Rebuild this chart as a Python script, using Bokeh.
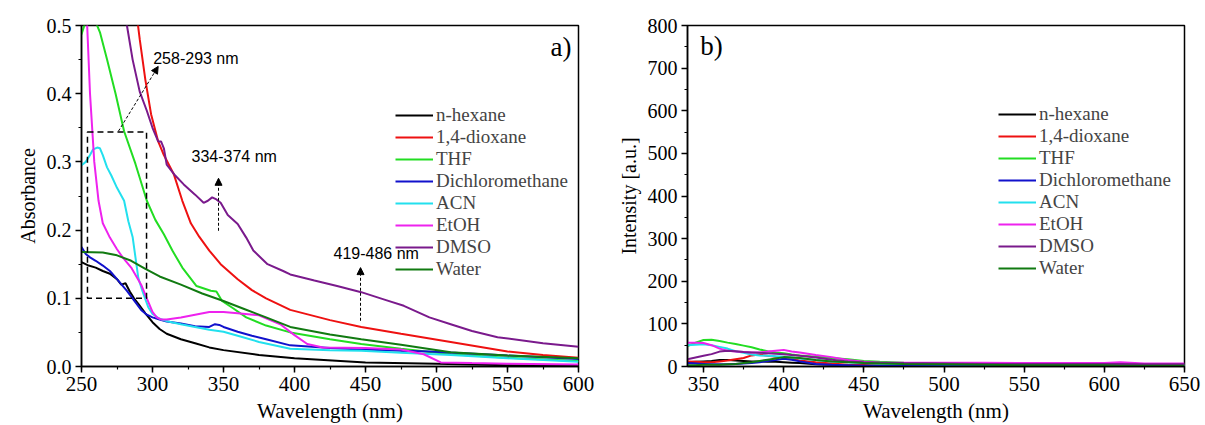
from bokeh.plotting import figure
from bokeh.layouts import row
from bokeh.models import (Legend, LegendItem, Range1d, SingleIntervalTicker, NumeralTickFormatter,
                          Label, Arrow, NormalHead, BoxAnnotation)
from bokeh.embed import file_html
from bokeh.resources import INLINE

# ---------------- data: panel a) absorbance ----------------
names = ["n-hexane", "1,4-dioxane", "THF", "Dichloromethane", "ACN", "EtOH", "DMSO", "Water"]
colors = ["#000000", "#ee1111", "#22dd22", "#1111cc", "#22e0ee", "#ee22ee", "#7a1a8c", "#117a11"]

hexane_x = [250, 255, 260, 265, 270, 275, 278, 281, 284, 287, 290, 295, 300, 305, 310, 320, 330, 340, 350, 375, 400, 450, 500, 550, 600]
hexane_y = [0.153, 0.148, 0.145, 0.140, 0.136, 0.128, 0.120, 0.122, 0.110, 0.100, 0.092, 0.078, 0.065, 0.055, 0.048, 0.040, 0.034, 0.028, 0.024, 0.017, 0.012, 0.006, 0.004, 0.002, 0.001]

dioxane_x = [285, 288, 291, 295, 299, 304, 308, 315, 321, 327, 333, 340, 348, 360, 370, 380, 390, 397, 425, 447, 475, 510, 550, 575, 600]
dioxane_y = [0.60, 0.53, 0.48, 0.42, 0.37, 0.33, 0.31, 0.282, 0.243, 0.21, 0.19, 0.17, 0.15, 0.128, 0.112, 0.100, 0.090, 0.083, 0.068, 0.058, 0.048, 0.036, 0.022, 0.017, 0.013]

thf_x = [250, 252, 256, 260, 263, 268, 274, 280, 288, 296, 302, 308, 314, 321, 331, 341, 345, 349, 357, 366, 380, 397, 425, 447, 475, 510, 550, 600]
thf_y = [0.487, 0.50, 0.51, 0.505, 0.49, 0.45, 0.40, 0.345, 0.297, 0.243, 0.215, 0.194, 0.17, 0.145, 0.118, 0.111, 0.110, 0.096, 0.085, 0.072, 0.060, 0.050, 0.040, 0.033, 0.026, 0.018, 0.013, 0.008]

dcm_x = [250, 253, 256, 260, 265, 270, 275, 282, 287, 292, 296, 300, 305, 310, 320, 330, 340, 344, 347, 350, 360, 370, 380, 397, 425, 447, 475, 495, 550, 600]
dcm_y = [0.175, 0.165, 0.160, 0.155, 0.148, 0.140, 0.128, 0.111, 0.097, 0.083, 0.076, 0.072, 0.069, 0.066, 0.063, 0.059, 0.058, 0.062, 0.061, 0.058, 0.051, 0.045, 0.040, 0.031, 0.027, 0.025, 0.023, 0.022, 0.016, 0.011]

acn_x = [250, 253, 256, 258, 261, 263, 265, 268, 271, 275, 280, 283, 286, 288, 290, 293, 297, 300, 305, 311, 320, 330, 340, 350, 360, 375, 397, 425, 447, 475, 510, 550, 600]
acn_y = [0.295, 0.300, 0.310, 0.318, 0.321, 0.320, 0.310, 0.292, 0.280, 0.262, 0.243, 0.213, 0.190, 0.160, 0.130, 0.110, 0.087, 0.077, 0.070, 0.066, 0.062, 0.058, 0.054, 0.051, 0.045, 0.036, 0.026, 0.024, 0.023, 0.020, 0.017, 0.012, 0.007]

etoh_x = [250, 253, 254, 256, 259, 262, 265, 270, 275, 279, 285, 292, 296, 300, 303, 306, 310, 320, 330, 340, 350, 360, 375, 390, 400, 409, 420, 450, 475, 491, 503, 525, 550, 600]
etoh_y = [0.60, 0.52, 0.50, 0.40, 0.30, 0.243, 0.210, 0.189, 0.172, 0.160, 0.145, 0.120, 0.100, 0.080, 0.072, 0.069, 0.069, 0.072, 0.076, 0.080, 0.080, 0.078, 0.075, 0.062, 0.046, 0.033, 0.028, 0.027, 0.025, 0.018, 0.006, 0.005, 0.004, 0.003]

dmso_x = [275, 280, 282, 286, 291, 296, 300, 304, 306, 308, 310, 316, 322, 330, 336, 339, 342, 345, 348, 353, 360, 366, 371, 381, 392, 397, 414, 430, 447, 465, 477, 495, 510, 525, 543, 575, 600]
dmso_y = [0.60, 0.52, 0.50, 0.45, 0.403, 0.375, 0.35, 0.33, 0.33, 0.32, 0.296, 0.28, 0.267, 0.252, 0.240, 0.243, 0.248, 0.245, 0.240, 0.222, 0.209, 0.189, 0.170, 0.150, 0.140, 0.135, 0.126, 0.118, 0.109, 0.097, 0.089, 0.072, 0.062, 0.052, 0.043, 0.034, 0.029]

water_x = [250, 265, 275, 285, 295, 305, 320, 335, 350, 365, 380, 397, 425, 447, 475, 510, 550, 600]
water_y = [0.168, 0.167, 0.163, 0.155, 0.143, 0.132, 0.120, 0.107, 0.096, 0.084, 0.072, 0.058, 0.047, 0.040, 0.032, 0.021, 0.016, 0.012]

# ---------------- data: panel b) emission ----------------
pl_wl = [340, 345, 350, 355, 360, 365, 370, 375, 380, 385, 390, 395, 400, 405, 410, 420, 430, 440, 450, 460, 475, 500, 525, 550, 575, 600, 610, 625, 650]
hexane_pl = [10, 11, 12, 13, 15, 15, 14, 13, 12, 12, 11, 11, 10, 9, 8, 5, 4, 3, 3, 2, 2, 2, 1, 1, 1, 1, 1, 1, 1]
dioxane_pl = [12, 11, 10, 10, 12, 14, 17, 20, 26, 28, 25, 23, 22, 18, 14, 10, 7, 4, 3, 2, 2, 2, 2, 2, 1, 1, 1, 1, 1]
thf_pl = [48, 56, 62, 63, 60, 56, 53, 49, 45, 40, 36, 33, 31, 28, 26, 23, 20, 17, 13, 11, 9, 7, 6, 5, 5, 4, 4, 4, 4]
dcm_pl = [8, 7, 6, 5, 5, 5, 6, 7, 8, 10, 13, 15, 18, 16, 12, 6, 4, 3, 2, 2, 2, 2, 2, 1, 1, 1, 1, 1, 1]
acn_pl = [50, 51, 52, 50, 46, 42, 36, 32, 28, 26, 25, 24, 23, 21, 19, 15, 12, 10, 8, 7, 6, 5, 5, 4, 4, 3, 3, 3, 3]
etoh_pl = [56, 56, 55, 50, 42, 37, 35, 34, 33, 33, 35, 37, 39, 35, 33, 27, 22, 15, 11, 9, 9, 9, 9, 8, 8, 8, 10, 7, 7]
dmso_pl = [17, 21, 25, 29, 35, 37, 36, 34, 33, 32, 31, 30, 29, 27, 25, 21, 16, 12, 10, 9, 8, 7, 6, 6, 6, 6, 6, 5, 5]
water_pl = [3, 3, 4, 4, 4, 5, 6, 8, 10, 13, 16, 19, 22, 21, 20, 15, 12, 10, 8, 7, 6, 5, 4, 3, 3, 3, 2, 2, 2]

abs_x = [hexane_x, dioxane_x, thf_x, dcm_x, acn_x, etoh_x, dmso_x, water_x]
abs_y = [hexane_y, dioxane_y, thf_y, dcm_y, acn_y, etoh_y, dmso_y, water_y]
pl_y = [hexane_pl, dioxane_pl, thf_pl, dcm_pl, acn_pl, etoh_pl, dmso_pl, water_pl]

SERIF = "Liberation Serif"
SANS = "Liberation Sans"


def style(p):
    p.grid.visible = False
    p.outline_line_color = "black"
    p.outline_line_width = 1.5
    p.background_fill_color = "white"
    p.border_fill_color = "white"
    for ax in (p.xaxis[0], p.yaxis[0]):
        ax.axis_line_width = 1.5
        ax.axis_line_color = "black"
        ax.major_tick_in = 0
        ax.major_tick_out = 6
        ax.minor_tick_in = 0
        ax.minor_tick_out = 3
        ax.major_tick_line_color = "black"
        ax.minor_tick_line_color = "black"
        ax.major_tick_line_width = 1.5
        ax.minor_tick_line_width = 1.2
        ax.major_label_text_font = SERIF
        ax.major_label_text_font_size = "20px"
        ax.major_label_text_color = "black"
        ax.axis_label_text_font = SERIF
        ax.axis_label_text_font_size = "20px"
        ax.axis_label_text_font_style = "normal"
        ax.axis_label_text_color = "black"
        ax.major_label_standoff = 4
    p.xaxis[0].axis_label_text_font_size = "21px"
    p.xaxis[0].major_label_text_font_size = "21px"


def add_legend(p, renderers, loc):
    items = [LegendItem(label=n, renderers=[r]) for n, r in zip(names, renderers)]
    leg = Legend(items=items, location=loc)
    leg.label_text_font = SERIF
    leg.label_text_font_size = "19px"
    leg.glyph_width = 38
    leg.glyph_height = 22
    leg.label_height = 22
    leg.spacing = 0
    leg.padding = 0
    leg.margin = 0
    leg.label_standoff = 3
    leg.background_fill_alpha = 0
    leg.border_line_alpha = 0
    p.add_layout(leg, "center")


# ---------------- panel a ----------------
pa = figure(width=600, height=425, output_backend="svg", toolbar_location=None,
            x_range=Range1d(250, 600), y_range=Range1d(0, 0.5),
            min_border_left=81, min_border_right=22, min_border_top=25, min_border_bottom=59)
style(pa)
pa.xaxis.ticker = SingleIntervalTicker(interval=50, num_minor_ticks=2)
pa.yaxis.ticker = SingleIntervalTicker(interval=0.1, num_minor_ticks=2)
pa.yaxis.formatter = NumeralTickFormatter(format="0.0")
pa.xaxis.axis_label = "Wavelength (nm)"
pa.yaxis.axis_label = "Absorbance"

rs = []
for xs, ys, c in zip(abs_x, abs_y, colors):
    rs.append(pa.line(xs, ys, line_color=c, line_width=2))
add_legend(pa, rs, (314, 86))

# annotations
pa.add_layout(BoxAnnotation(left=254.2, right=295.8, bottom=0.1, top=0.344,
                            fill_alpha=0, line_color="black", line_alpha=1.0,
                            line_width=1.5, line_dash="6 4"))
head = dict(size=7, fill_color="black", line_color="black")
pa.add_layout(Arrow(x_start=276, y_start=0.345, x_end=304, y_end=0.44,
                    line_dash="3 2", line_width=1, end=NormalHead(**head)))
pa.add_layout(Arrow(x_start=346.5, y_start=0.199, x_end=346.5, y_end=0.276,
                    line_dash="3 2", line_width=1, end=NormalHead(**head)))
pa.add_layout(Arrow(x_start=446.5, y_start=0.067, x_end=446.5, y_end=0.145,
                    line_dash="3 2", line_width=1, end=NormalHead(**head)))
for txt, x, y in [("258-293 nm", 300.5, 0.452), ("334-374 nm", 327.5, 0.308), ("419-486 nm", 427.5, 0.166)]:
    pa.add_layout(Label(x=x, y=y, text=txt, text_font=SANS, text_font_size="16px",
                        text_baseline="middle", text_align="left", text_color="black"))
pa.add_layout(Label(x=595, y=0.468, text="a)", text_font=SERIF, text_font_size="27px",
                    text_baseline="middle", text_align="right", text_color="black"))

# ---------------- panel b ----------------
pb = figure(width=605, height=425, output_backend="svg", toolbar_location=None,
            x_range=Range1d(340, 650), y_range=Range1d(0, 800),
            min_border_left=87, min_border_right=21, min_border_top=25, min_border_bottom=58)
style(pb)
pb.xaxis.ticker = SingleIntervalTicker(interval=50, num_minor_ticks=2)
pb.yaxis.ticker = SingleIntervalTicker(interval=100, num_minor_ticks=2)
pb.xaxis.axis_label = "Wavelength (nm)"
pb.yaxis.axis_label = "Intensity [a.u.]"

rs2 = []
for ys, c in zip(pl_y, colors):
    rs2.append(pb.line(pl_wl, ys, line_color=c, line_width=2))
add_legend(pb, rs2, (311, 87))
pb.add_layout(Label(x=348, y=752, text="b)", text_font=SERIF, text_font_size="27px",
                    text_baseline="middle", text_align="left", text_color="black"))

layout = row(pa, pb)
open("out.html", "w").write(file_html(layout, INLINE))
